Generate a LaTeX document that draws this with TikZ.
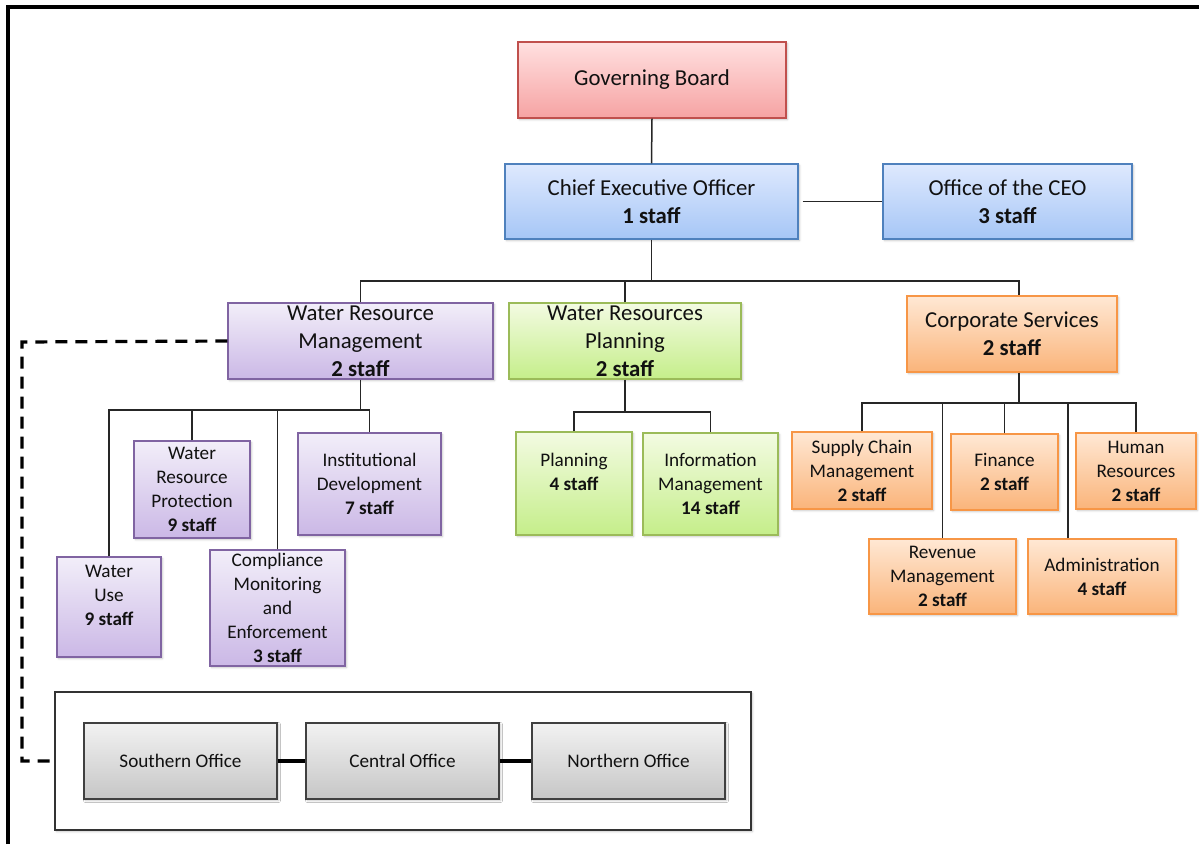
\documentclass[tikz,border=0pt]{standalone}
\usepackage{fontspec}
\setmainfont{Carlito}
\usetikzlibrary{shadows.blur}
\definecolor{redB}{HTML}{C0504D}\definecolor{redT}{HTML}{FFE0E0}\definecolor{redD}{HTML}{F6A3A3}
\definecolor{bluB}{HTML}{4F81BD}\definecolor{bluT}{HTML}{DEE9FE}\definecolor{bluD}{HTML}{A6C6F6}
\definecolor{purB}{HTML}{8064A2}\definecolor{purT}{HTML}{F2EEF9}\definecolor{purD}{HTML}{CBB8E6}
\definecolor{grnB}{HTML}{9BBB59}\definecolor{grnT}{HTML}{F3FBE2}\definecolor{grnD}{HTML}{C5EE8A}
\definecolor{orgB}{HTML}{F79646}\definecolor{orgT}{HTML}{FFE8D4}\definecolor{orgD}{HTML}{FAB47A}
\definecolor{gryB}{HTML}{404040}\definecolor{gryT}{HTML}{F2F2F2}\definecolor{gryD}{HTML}{C6C6C6}
\definecolor{txt}{HTML}{111111}
\begin{document}
\begin{tikzpicture}[x=1pt,y=-1pt,
  box/.style={draw, line width=1.3pt, align=center, inner sep=0pt, text=txt,
    blur shadow={shadow xshift=1.5pt,shadow yshift=-1.5pt,shadow opacity=25,shadow blur radius=2pt}},
  big/.style={font=\fontsize{22.8}{28}\selectfont},
  small/.style={font=\fontsize{19.2}{24}\selectfont},
  redbox/.style={box,big,draw=redB,top color=redT,bottom color=redD},
  blubox/.style={box,big,draw=bluB,top color=bluT,bottom color=bluD},
  purbox/.style={box,draw=purB,top color=purT,bottom color=purD},
  grnbox/.style={box,draw=grnB,top color=grnT,bottom color=grnD},
  orgbox/.style={box,draw=orgB,top color=orgT,bottom color=orgD},
  grybox/.style={box,small,draw=gryB,top color=gryT,bottom color=gryD},
  conn/.style={draw=black!85, line width=1.5pt},
  thickconn/.style={draw=black, line width=3.5pt},
  dashconn/.style={draw=black, line width=3.2pt, dash pattern=on 12pt off 8pt},
  sz/.style 2 args={minimum width=#1pt, minimum height=#2pt}
]
\useasboundingbox (0,0) rectangle (1199,844);
% frame
\draw[line width=3.2pt] (8,844) -- (8,7) -- (1199,7);

% top level
\node[redbox,sz={268}{76}] (gb) at (652,80) {Governing Board};
\node[blubox,sz={293}{75}] (ceo) at (651.5,201.5) {Chief Executive Officer\\\textbf{1 staff}};
\node[blubox,sz={249}{75}] (off) at (1007.5,201.5) {Office of the CEO\\\textbf{3 staff}};

% divisions
\node[purbox,big,sz={265}{76}] (wrm) at (360.5,341) {Water Resource\\Management\\\textbf{2 staff}};
\node[grnbox,big,sz={232}{76}] (wrp) at (625,341) {Water Resources\\Planning\\\textbf{2 staff}};
\node[orgbox,big,sz={210}{76}] (cs) at (1012,334) {Corporate Services\\\textbf{2 staff}};

% WRM units
\node[purbox,small,sz={104}{100}] (wu) at (109,607) {Water\\Use\\\textbf{9 staff}\\\mbox{}};
\node[purbox,small,sz={116}{97}] (wrpr) at (192,489.5) {Water\\Resource\\Protection\\\textbf{9 staff}};
\node[purbox,small,sz={135}{116}] (comp) at (277.5,608) {Compliance\\Monitoring\\and\\Enforcement\\\textbf{3 staff}};
\node[purbox,small,sz={143}{102}] (ins) at (369.5,484) {Institutional\\Development\\\textbf{7 staff}};

% WRP units
\node[grnbox,small,sz={116}{103}] (pl) at (574,483.5) {Planning\\\textbf{4 staff}\\\mbox{}};
\node[grnbox,small,sz={135}{102}] (im) at (710.5,484) {Information\\Management\\\textbf{14 staff}};

% CS units
\node[orgbox,small,sz={140}{77}] (scm) at (862,470.5) {Supply Chain\\Management\\\textbf{2 staff}};
\node[orgbox,small,sz={107}{76}] (fin) at (1004.5,472) {Finance\\\textbf{2 staff}};
\node[orgbox,small,sz={120}{76}] (hr) at (1136,471) {Human\\Resources\\\textbf{2 staff}};
\node[orgbox,small,sz={147}{75}] (rev) at (942.5,576.5) {Revenue\\Management\\\textbf{2 staff}};
\node[orgbox,small,sz={148}{75}] (adm) at (1102,576.5) {Administration\\\textbf{4 staff}};

% regional offices
\node[draw=black!80, line width=1.3pt, fill=white, minimum width=696pt, minimum height=138pt,
  blur shadow={shadow xshift=1.5pt,shadow yshift=-1.5pt,shadow opacity=25,shadow blur radius=2pt}] (reg) at (403,761) {};
\node[grybox,sz={193}{76}] (so) at (180.5,761) {Southern Office};
\node[grybox,sz={193}{76}] (co) at (402.5,761) {Central Office};
\node[grybox,sz={193}{76}] (no) at (628.5,761) {Northern Office};

% connectors
\coordinate (topbus) at (651.5,281);
\coordinate (wrmbus) at (361,410);
\coordinate (wrpbus) at (625,412);
\coordinate (csbus) at (1019,403);

\draw[conn] (gb.south) -- (ceo.north);
\draw[conn,shorten <=4pt] (ceo.east) -- (off.west);
\draw[conn] (ceo.south) -- (topbus);
\draw[conn] (wrm.north) -- (wrm.north |- topbus) -- ([xshift=7pt]cs.north |- topbus) -- ([xshift=7pt]cs.north);
\draw[conn] (wrp.north) -- (wrp.north |- topbus);

\draw[conn] (wrm.south) -- (wrm.south |- wrmbus);
\draw[conn] (wu.north) -- (wu.north |- wrmbus) -- (ins.north |- wrmbus) -- (ins.north);
\draw[conn] (wrpr.north) -- (wrpr.north |- wrmbus);
\draw[conn] (comp.north) -- (comp.north |- wrmbus);

\draw[conn] (wrp.south) -- (wrpbus);
\draw[conn] (pl.north) -- (pl.north |- wrpbus) -- (im.north |- wrpbus) -- (im.north);

\draw[conn] ([xshift=7pt]cs.south) -- (csbus);
\draw[conn] (scm.north) -- (scm.north |- csbus) -- (hr.north |- csbus) -- (hr.north);
\draw[conn] (fin.north) -- (fin.north |- csbus);
\draw[conn] (rev.north) -- (rev.north |- csbus);
\draw[conn] ([xshift=-34pt]adm.north) -- ([xshift=-34pt]adm.north |- csbus);

\draw[thickconn] (so.east) -- (co.west);
\draw[thickconn] (co.east) -- (no.west);

\coordinate (dashcorner) at (22,342);
\draw[dashconn] (wrm.west) -- (dashcorner) -- (dashcorner |- reg.west) -- (reg.west);
\end{tikzpicture}
\end{document}
